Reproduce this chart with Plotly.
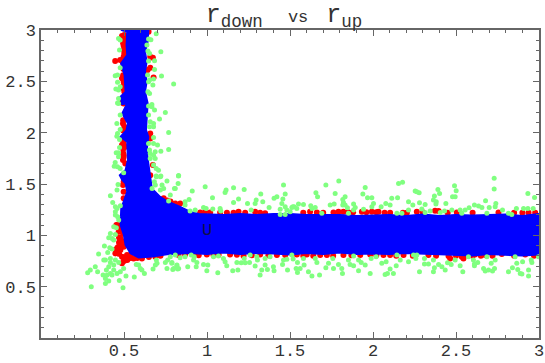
import plotly.graph_objects as go

green_vertical = [(.694,2.964),(.722,2.788),(.726,2.551),(.799,2.473),(.467,2.918),(.477,2.902),(.648,2.912),(.662,2.905),(.638,2.853),(.473,2.804),(.644,2.795),(.654,2.772),(.684,2.701),(.648,2.697),(.477,2.632),(.684,2.616),(.642,2.561),(.447,2.555),(.461,2.561),(.678,2.522),(.654,2.512),(.674,2.464),(.648,2.496),(.461,2.490),(.451,2.425),(.467,2.415),(.477,2.447),(.644,2.399),(.654,2.382),(.467,2.334),(.461,2.288),(.668,2.275),
(.467,2.285),(.477,2.171),(.648,2.259),(.668,2.252),(.684,2.220),(.749,2.197),(.714,2.132),(.648,2.171),(.457,2.090),(.658,2.106),(.678,2.090),(.654,2.057),(.678,2.057),(.769,2.002),(.461,1.992),(.457,1.966),(.473,1.934),(.477,2.031),(.678,1.953),(.648,1.895),(.678,1.895),(.702,1.879),(.473,1.856),(.453,1.804),(.467,1.804),(.769,1.836),(.654,1.830),(.688,1.814),(.722,1.820),(.658,1.798),(.678,1.781),(.467,1.765),(.688,1.749),(.447,1.710),(.441,1.674),(.461,1.668),(.477,1.651),(.678,1.684),(.694,1.651),(.708,1.635),(.498,1.609),(.694,1.577),(.722,1.577),(.829,1.583),(.658,1.749)]

green_corner = [(.695,1.571),(.719,1.571),(.759,1.529),(.683,1.522),(.689,1.490),(.669,1.457),(.729,1.490),(.739,1.457),(.719,1.441),(.809,1.457),(.464,1.496),(.458,1.441),(.418,1.386),(.432,1.321),(.448,1.279),(.478,1.288),(.458,1.262),(.448,1.230),(.448,1.197),(.462,1.181),(.468,1.149),(.779,1.392),(.769,1.334),(.438,1.084),(.454,1.074),(.418,1.019),(.408,.977),(.428,.970),(.448,1.009),(.438,.954),(.382,.895),(.414,.879),(.428,.866),(.402,.834),(.347,.818),(.378,.759),(.388,.759),(.418,.775),(.418,.736),(.448,.759),(.327,.694),(.297,.662),(.281,.636),(.341,.645),(.394,.662),(.408,.694),(.438,.710),(.468,.736),(.498,.678),(.438,.662),(.418,.629),(.398,.613),(.374,.613),(.388,.580),(.428,.613),(.458,.629),(.478,.645),(.408,.555),(.388,.532),(.472,.561),(.512,.603),(.562,.593),(.623,.629),(.303,.499),(.494,.490),(.598,.678),(.574,.717),(.588,.710),(.608,.662),(.695,.759),(.699,.727),(.675,.671),(.689,.710),(.759,.678),(.749,.736),(.763,.759),(.799,.678),(.819,.710),(.789,.736),(.829,.678),(.809,.808),(.779,.792)]

green_band_a = [(.828,1.577),(.804,1.457),(.826,1.506),(.911,1.431),(.989,1.473),(1.109,1.418),(1.115,1.441),(1.160,1.464),(1.224,1.447),(1.033,1.366),(1.324,1.402),(1.461,1.490),(1.471,1.402),(1.421,1.376),(1.404,1.360),(1.457,1.353),(1.160,1.321),(1.190,1.353),(1.296,1.343),(1.290,1.311),(1.336,1.327),(1.244,1.311),(.868,1.327),(.892,1.350),(.868,1.295),(1.374,1.272),(1.441,1.253),(1.451,1.311),(1.471,1.279),(1.481,1.246),(1.517,1.279),(1.501,1.230),(1.441,1.204),(1.471,1.204),(.979,1.272),(.995,1.262),(1.035,1.256),(1.079,1.262),(.929,1.246),(1.266,1.246),(.898,1.236),(1.083,1.236),
(.788,.727),(.818,.704),(.794,.668),(.824,.671),(.838,.782),(.868,.792),(.905,.808),(.923,.792),(.919,.759),(.939,.736),(.935,.694),(.884,.694),(.979,.717),(1.005,.710),(.999,.655),(1.065,.636),(1.039,.792),(1.069,.798),(1.099,.775),(1.109,.743),(1.119,.704),(1.155,.655),(1.186,.662),(1.180,.736),(1.206,.733),(1.230,.733),(1.256,.736),(1.224,.775),(1.260,.808),(1.290,.701),(1.304,.759),(1.330,.662),(1.320,.613),(1.350,.710),(1.364,.668),(1.400,.694),(1.404,.655),(1.461,.759),(1.481,.766),(1.455,.717),(1.485,.662),(1.511,.808),(1.380,.792),(1.350,.775),(1.300,.792)]

green_band_b = [(1.794,1.529),(1.716,1.490),(2.154,1.506),(2.178,1.516),(2.254,1.431),(1.953,1.467),(1.656,1.415),(1.666,1.376),(1.772,1.408),(1.967,1.366),(1.993,1.366),(1.939,1.402),(1.832,1.376),(1.818,1.350),(1.822,1.321),(1.818,1.295),(1.832,1.295),(1.766,1.305),(1.742,1.295),(1.883,1.305),(1.846,1.269),(1.893,1.272),(2.113,1.360),(2.148,1.366),(2.214,1.327),(2.077,1.311),(2.049,1.279),(2.103,1.295),(2.003,1.311),(1.993,1.279),(2.240,1.295),(2.214,1.246),(1.551,1.305),(1.581,1.301),(1.525,1.279),(1.541,1.262),(1.511,1.272),(1.625,1.288),(1.652,1.272),(1.632,1.262),(1.943,1.253),(1.883,1.246),(1.852,1.214),(1.692,1.214),(2.174,1.214),(2.144,1.214),
(1.519,.769),(1.545,.736),(1.537,.678),(1.545,.639),(1.581,.775),(1.585,.710),(1.561,.678),(1.611,.645),(1.632,.603),(1.678,.613),(1.652,.775),(1.662,.736),(1.716,.684),(1.732,.727),(1.758,.775),(1.762,.678),(1.792,.717),(1.812,.678),(1.816,.629),(1.852,.759),(1.862,.717),(1.883,.704),(1.913,.655),(1.913,.759),(1.929,.736),(1.953,.710),(1.983,.629),(1.989,.775),(2.019,.792),(2.053,.727),(2.079,.743),(2.073,.619),(2.087,.629),(2.103,.671),(2.123,.629),(2.140,.704),(2.164,.759),(2.214,.743),(2.244,.808),(2.144,.808),(1.883,.798)]

green_band_c = [(2.730,1.555),(2.730,1.451),(2.491,1.483),(2.391,1.447),(2.501,1.434),(2.401,1.408),(2.264,1.425),(2.278,1.415),(2.479,1.376),(2.495,1.376),(2.370,1.382),(2.364,1.343),(2.381,1.327),(2.379,1.305),(2.933,1.408),(2.973,1.369),(2.678,1.337),(2.280,1.318),(2.314,1.301),(2.439,1.311),(2.740,1.311),(2.736,1.279),(2.611,1.295),(2.636,1.285),(2.656,1.272),(2.579,1.269),(2.700,1.272),(2.780,1.246),(2.864,1.262),(2.907,1.262),(2.933,1.262),(2.965,1.262),(2.294,1.256),(2.344,1.236),(2.314,1.223),(2.431,1.236),(2.405,1.223),(2.475,1.246),(2.525,1.246),(2.555,1.246),(2.535,1.214),(2.816,1.214),(2.836,1.204),(2.686,1.214),
(2.264,.808),(2.258,.775),(2.310,.720),(2.334,.720),(2.310,.775),(2.364,.759),(2.370,.684),(2.364,.645),(2.280,.645),(2.395,.717),(2.415,.694),(2.435,.662),(2.449,.733),(2.471,.717),(2.495,.759),(2.525,.704),(2.541,.645),(2.575,.792),(2.605,.759),(2.611,.720),(2.631,.736),(2.611,.704),(2.666,.678),(2.676,.652),(2.696,.662),(2.720,.652),(2.732,.678),(2.712,.727),(2.686,.792),(2.736,.759),(2.816,.645),(2.840,.684),(2.872,.668),(2.887,.629),(2.897,.623),(2.937,.662),(2.937,.603),(2.866,.727),(2.901,.743),(2.953,.759),(2.957,.736),(2.856,.792),(2.997,.792)]

red_vertical = [(.488,2.941),(.502,2.951),(.498,2.902),(.498,2.847),(.508,2.827),(.498,2.804),(.502,2.772),(.498,2.740),(.477,2.707),(.447,2.697),(.648,2.983),(.658,2.740),(.674,2.730),(.658,2.632),(.642,2.610),(.678,2.538),(.488,2.529),(.498,2.496),(.502,2.399),(.488,2.295),
(.498,2.285),(.508,2.187),(.494,2.090),(.502,2.057),(.498,1.895),(.488,1.879),(.508,1.862),(.498,1.781),(.494,1.733),(.508,1.700),(.658,1.992),(.658,1.944),(.674,1.684),(.658,1.586),
(.495,2.92),(.495,2.87),(.495,2.68),(.497,2.62),(.495,2.56),(.497,2.46),(.497,2.43),(.495,2.12),(.495,2.02),(.495,1.92),(.495,1.84),(.495,1.80),(.497,1.76)]

red_corner = [(.494,1.490),(.498,1.425),(.498,1.360),(.498,1.522),(.454,1.100),(.462,1.100),(.468,1.035),(.494,1.019),(.488,.921),(.498,.889),(.458,.840),(.448,.824),(.488,.792),(.538,.808),(.508,.759),(.528,.792),(.488,.727),(.608,.775),(.689,.792),(.739,1.360),(.809,1.311),(.839,1.311),(.478,.856),(.518,.808),(.468,.889),(.558,.775),
(.48,.97),(.47,.93),(.46,.88),(.50,.75),(.52,.76),(.54,.78),(.58,.78),(.65,.79),(.72,.80),(.76,1.34),(.78,1.33),(.48,1.06),(.47,.98),(.45,.86),(.47,.82),(.50,.78),(.49,.94)]

red_band = [(.788,1.305),(.808,1.295),(.959,1.223),(.989,1.230),(1.190,1.230),(1.230,1.220),(1.290,1.230),(1.350,1.214),(1.019,1.223),(1.079,1.223),
(.828,.808),(.868,.814),(.919,.814),(.999,.814),(1.039,.808),(1.139,.814),(1.220,.801),(1.320,.814),(1.421,.808),(1.471,.808),
(1.621,1.230),(1.662,1.223),(1.792,1.230),(1.822,1.230),(1.933,1.230),(1.993,1.230),(2.033,1.230),(2.103,1.220),(2.204,1.220),(1.762,1.223),
(1.541,.814),(1.601,.814),(1.682,.808),(1.722,.808),(1.822,.808),(1.923,.808),(1.983,.814),(2.103,.808),(2.063,.808),(2.184,.808),
(2.264,1.230),(2.374,1.240),(2.395,1.236),(2.937,1.220),(2.977,1.220),(2.505,1.223),(2.756,1.223),
(2.334,.808),(2.455,.798),(2.465,.775),(2.535,.792),(2.555,.808),(2.545,.775),(2.575,.814),(2.615,.814),(2.776,.817),(2.917,.814),(2.676,.808),
(1.12,1.22),(1.16,1.22),(1.32,1.22),(1.58,1.22),(1.70,1.22),(1.85,1.225),(1.88,1.225),(1.96,1.225),(2.02,1.225),(2.07,1.22),(2.18,1.22),(2.30,1.225),(2.45,1.22),(2.60,1.22),(2.85,1.22),(2.90,1.22),
(.95,.805),(1.07,.81),(1.18,.81),(1.27,.805),(1.37,.805),(1.58,.80),(1.64,.80),(1.76,.80),(1.87,.805),(2.02,.805),(2.14,.80),(2.24,.80),(2.38,.80),(2.50,.80),(2.60,.80),(2.65,.80),(2.72,.80),(2.85,.80),(2.97,.80)]

blue_left_edge = [(.481,3.0),(.518,2.98),(.514,2.853),(.518,2.756),(.481,2.675),(.502,2.561),(.508,2.399),(.477,2.350),(.488,2.275),(.518,2.285),(.488,2.187),(.522,2.090),(.514,2.025),(.477,1.960),(.518,1.911),(.522,1.733),(.508,1.635),(.473,1.586),(.488,1.538),(.508,1.506),(.518,1.425),(.498,1.327),(.482,1.262),(.478,1.100),(.498,1.003),(.508,.905),(.538,.824),(.588,.782),(.669,.792),(.759,.814),(.840,.824)]
blue_bottom_edge = [(.9,.825),(1.0,.815),(1.1,.83),(1.2,.815),(1.3,.825),(1.4,.82),(1.5,.81),(1.6,.825),(1.7,.815),(1.8,.83),(1.9,.815),(2.0,.82),(2.1,.815),(2.2,.825),(2.3,.82),(2.4,.81),(2.5,.81),(2.6,.80),(2.7,.815),(2.8,.81),(2.9,.80),(3.0,.81)]
blue_top_edge = [(3.0,1.21),(2.9,1.19),(2.8,1.205),(2.7,1.20),(2.6,1.195),(2.5,1.20),(2.4,1.19),(2.3,1.205),(2.2,1.19),(2.1,1.20),(2.0,1.195),(1.9,1.19),(1.8,1.2),(1.7,1.2),(1.6,1.2),(1.5,1.21),(1.4,1.21),(1.3,1.2),(1.2,1.21),(1.1,1.2),(1.0,1.21),(.95,1.21),(.9,1.23)]
blue_right_edge = [(.839,1.279),(.759,1.334),(.719,1.376),(.669,1.457),(.658,1.570),(.648,1.700),(.638,1.830),(.648,1.960),(.634,2.025),(.638,2.155),(.644,2.285),(.628,2.399),(.638,2.496),(.628,2.593),(.638,2.691),(.628,2.788),(.644,2.886),(.648,3.0)]

major_ticks = [0.5, 1, 1.5, 2, 2.5, 3]
tick_labels = ["0.5", "1", "1.5", "2", "2.5", "3"]

FONT = "Liberation Mono, Courier New, monospace"
INK = "#333333"
FRAME = "#666666"

green = green_vertical + green_corner + green_band_a + green_band_b + green_band_c
red = red_vertical + red_corner + red_band
blue = blue_left_edge + blue_bottom_edge + blue_top_edge + blue_right_edge

fig = go.Figure()
fig.add_trace(go.Scatter(x=[p[0] for p in red], y=[p[1] for p in red], mode="markers",
                         marker=dict(color="#ff0000", size=6, line=dict(width=0)), name="red"))
fig.add_trace(go.Scatter(x=[p[0] for p in blue], y=[p[1] for p in blue], mode="lines",
                         fill="toself", fillcolor="#0000ff",
                         line=dict(color="#0000ff", width=1.5), name="blue"))
fig.add_trace(go.Scatter(x=[p[0] for p in green], y=[p[1] for p in green], mode="markers",
                         marker=dict(color="#80ff80", size=5, line=dict(width=0)), name="green"))

def axis():
    return dict(range=[0, 3], tickvals=major_ticks, ticktext=tick_labels, ticks="inside",
                automargin=False,
                ticklen=6, tickwidth=1, tickcolor=FRAME, showline=True, linecolor=FRAME,
                linewidth=1.5, mirror="ticks", showgrid=False, zeroline=False,
                tickfont=dict(family=FONT, size=17, color=INK),
                minor=dict(dtick=0.1, tick0=0, ticks="inside", ticklen=3, tickwidth=1,
                           tickcolor=FRAME, showgrid=False))

x_axis = axis()
x_axis["ticklabelstandoff"] = -4

fig.update_layout(
    width=545, height=363, autosize=False, showlegend=False,
    paper_bgcolor="white", plot_bgcolor="white",
    margin=dict(l=41, r=6, t=30, b=25),
    xaxis=x_axis, yaxis=axis(),
    title=dict(
        text='r<sub>down</sub><span style="font-size:21px">&nbsp;&nbsp;</span>'
             '<span style="font-size:17px">vs</span>'
             '<span style="font-size:15px">&nbsp;&nbsp;</span>r<sub>up</sub>',
        x=284 / 545, xanchor="center", y=1 - 13 / 363, yanchor="middle",
        font=dict(family=FONT, size=25, color=INK)),
    annotations=[dict(x=1, y=1.05, xref="x", yref="y", text="U", showarrow=False,
                      font=dict(family=FONT, size=17, color="#10104a"))],
)
fig.write_html("out.html", post_script="document.body.style.margin='0';",
               config={"displayModeBar": False})
